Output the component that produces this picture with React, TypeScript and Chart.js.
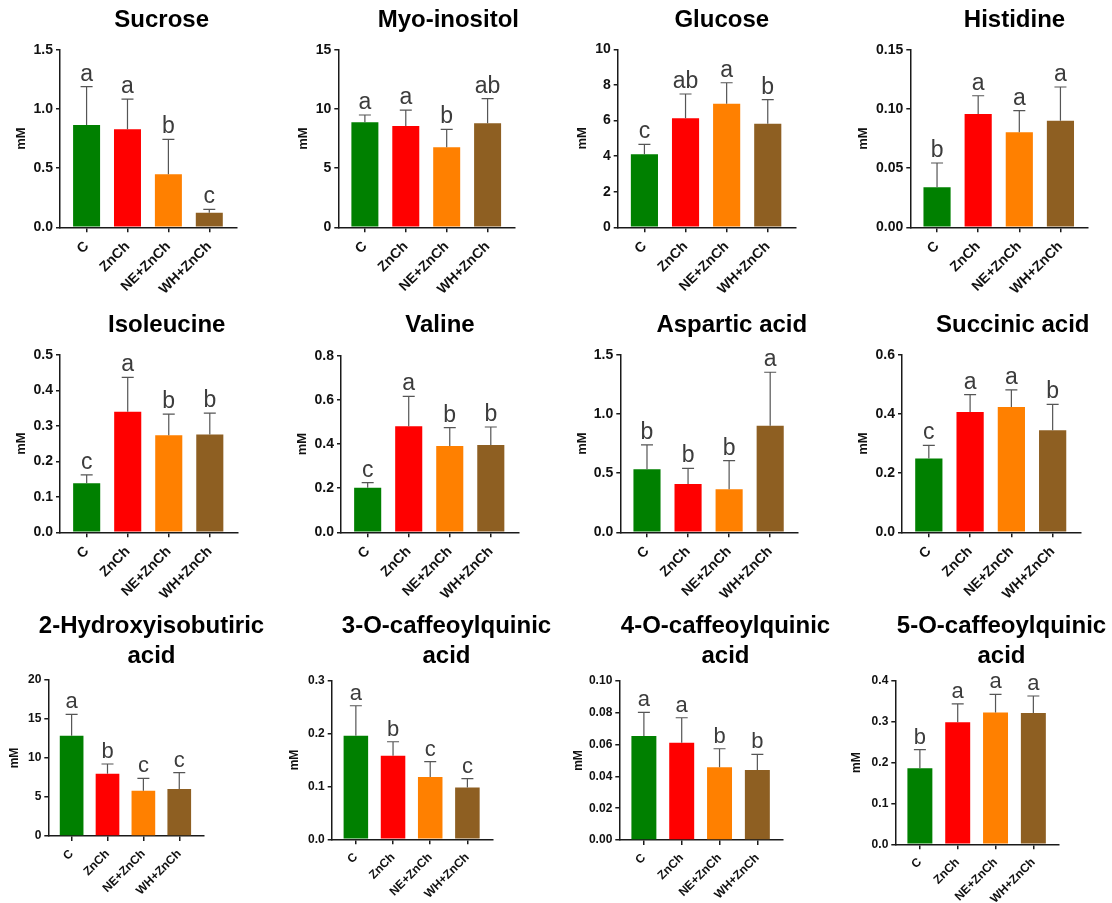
import React, { useEffect, useRef } from 'react';
import { Chart, registerables } from 'chart.js';

Chart.register(...registerables);

// ---------------- DATA ----------------
const groups = ['C', 'ZnCh', 'NE+ZnCh', 'WH+ZnCh'];

const sucroseMean = [0.866, 0.83, 0.448, 0.124];
const sucroseSd = [0.324, 0.255, 0.296, 0.028];
const sucroseLetters = ['a', 'a', 'b', 'c'];
const sucroseTicks = ['0.0', '0.5', '1.0', '1.5'];

const myoMean = [8.88, 8.57, 6.77, 8.8];
const myoSd = [0.62, 1.35, 1.52, 2.08];
const myoLetters = ['a', 'a', 'b', 'ab'];
const myoTicks = ['0', '5', '10', '15'];

const glucoseMean = [4.1, 6.12, 6.94, 5.82];
const glucoseSd = [0.56, 1.37, 1.18, 1.35];
const glucoseLetters = ['c', 'ab', 'a', 'b'];
const glucoseTicks = ['0', '2', '4', '6', '8', '10'];

const histidineMean = [0.0338, 0.0959, 0.0804, 0.0902];
const histidineSd = [0.0206, 0.0154, 0.0183, 0.0285];
const histidineLetters = ['b', 'a', 'a', 'a'];
const histidineTicks = ['0.00', '0.05', '0.10', '0.15'];

const isoleucineMean = [0.138, 0.34, 0.274, 0.276];
const isoleucineSd = [0.024, 0.097, 0.059, 0.06];
const isoleucineLetters = ['c', 'a', 'b', 'b'];
const isoleucineTicks = ['0.0', '0.1', '0.2', '0.3', '0.4', '0.5'];

const valineMean = [0.202, 0.48, 0.391, 0.395];
const valineSd = [0.023, 0.136, 0.083, 0.082];
const valineLetters = ['c', 'a', 'b', 'b'];
const valineTicks = ['0.0', '0.2', '0.4', '0.6', '0.8'];

const asparticMean = [0.533, 0.409, 0.364, 0.902];
const asparticSd = [0.206, 0.132, 0.242, 0.452];
const asparticLetters = ['b', 'b', 'b', 'a'];
const asparticTicks = ['0.0', '0.5', '1.0', '1.5'];

const succinicMean = [0.25, 0.407, 0.424, 0.345];
const succinicSd = [0.044, 0.059, 0.058, 0.088];
const succinicLetters = ['c', 'a', 'a', 'b'];
const succinicTicks = ['0.0', '0.2', '0.4', '0.6'];

const hibaMean = [12.86, 7.99, 5.81, 6.03];
const hibaSd = [2.74, 1.24, 1.59, 2.09];
const hibaLetters = ['a', 'b', 'c', 'c'];
const hibaTicks = ['0', '5', '10', '15', '20'];

const cqa3Mean = [0.196, 0.158, 0.118, 0.098];
const cqa3Sd = [0.0566, 0.0265, 0.0288, 0.0166];
const cqa3Letters = ['a', 'b', 'c', 'c'];
const cqa3Ticks = ['0.0', '0.1', '0.2', '0.3'];

const cqa4Mean = [0.0654, 0.0612, 0.0457, 0.044];
const cqa4Sd = [0.0149, 0.0157, 0.0117, 0.0099];
const cqa4Letters = ['a', 'a', 'b', 'b'];
const cqa4Ticks = ['0.00', '0.02', '0.04', '0.06', '0.08', '0.10'];

const cqa5Mean = [0.186, 0.2988, 0.323, 0.3216];
const cqa5Sd = [0.0457, 0.0452, 0.044, 0.0417];
const cqa5Letters = ['b', 'a', 'a', 'a'];
const cqa5Ticks = ['0.0', '0.1', '0.2', '0.3', '0.4'];

// ---------------- STYLE / LAYOUT ----------------
const groupColors = ['#008000', '#FF0000', '#FF8000', '#8E5F22'];
const FONT = "'Liberation Sans', Arial, Helvetica, sans-serif";
const AXIS = '#1a1a1a';
const PAGE_W = 1112;
const PAGE_H = 903;

type Panel = {
  title: string[];
  mean: number[];
  sd: number[];
  letters: string[];
  ticks: string[];
  L: number; R: number; T: number; B: number;
  tx: number; ty: number;
  mm: number;
  small: boolean;
};

const panels: Panel[] = [
  { title: ['Sucrose'], mean: sucroseMean, sd: sucroseSd, letters: sucroseLetters, ticks: sucroseTicks, L: 60, R: 236.7, T: 50, B: 227.3, tx: 161.7, ty: 26.7, mm: 38.3, small: false },
  { title: ['Myo-inositol'], mean: myoMean, sd: myoSd, letters: myoLetters, ticks: myoTicks, L: 338.3, R: 515, T: 50, B: 227.3, tx: 448.3, ty: 26.7, mm: 35, small: false },
  { title: ['Glucose'], mean: glucoseMean, sd: glucoseSd, letters: glucoseLetters, ticks: glucoseTicks, L: 617.7, R: 795.3, T: 49.3, B: 227.3, tx: 721.8, ty: 26.7, mm: 35, small: false },
  { title: ['Histidine'], mean: histidineMean, sd: histidineSd, letters: histidineLetters, ticks: histidineTicks, L: 910.3, R: 1088, T: 50, B: 227.3, tx: 1014.5, ty: 26.7, mm: 46.6, small: false },
  { title: ['Isoleucine'], mean: isoleucineMean, sd: isoleucineSd, letters: isoleucineLetters, ticks: isoleucineTicks, L: 60, R: 237.3, T: 355, B: 532.3, tx: 166.7, ty: 331.7, mm: 38.3, small: false },
  { title: ['Valine'], mean: valineMean, sd: valineSd, letters: valineLetters, ticks: valineTicks, L: 341, R: 518.3, T: 355.7, B: 532.3, tx: 440, ty: 331.7, mm: 38.3, small: false },
  { title: ['Aspartic acid'], mean: asparticMean, sd: asparticSd, letters: asparticLetters, ticks: asparticTicks, L: 620.3, R: 797.7, T: 355, B: 532.3, tx: 731.8, ty: 331.7, mm: 37.6, small: false },
  { title: ['Succinic acid'], mean: succinicMean, sd: succinicSd, letters: succinicLetters, ticks: succinicTicks, L: 902, R: 1080.3, T: 355, B: 532.3, tx: 1012.8, ty: 331.7, mm: 38.3, small: false },
  { title: ['2-Hydroxyisobutiric', 'acid'], mean: hibaMean, sd: hibaSd, letters: hibaLetters, ticks: hibaTicks, L: 48.3, R: 203.3, T: 680, B: 836, tx: 151.5, ty: 633.3, mm: 33.3, small: true },
  { title: ['3-O-caffeoylquinic', 'acid'], mean: cqa3Mean, sd: cqa3Sd, letters: cqa3Letters, ticks: cqa3Ticks, L: 331.7, R: 492.3, T: 680.7, B: 839.3, tx: 446.5, ty: 633.3, mm: 36.7, small: true },
  { title: ['4-O-caffeoylquinic', 'acid'], mean: cqa4Mean, sd: cqa4Sd, letters: cqa4Letters, ticks: cqa4Ticks, L: 619.3, R: 782.7, T: 681, B: 840, tx: 725.5, ty: 633.3, mm: 40.6, small: true },
  { title: ['5-O-caffeoylquinic', 'acid'], mean: cqa5Mean, sd: cqa5Sd, letters: cqa5Letters, ticks: cqa5Ticks, L: 895.3, R: 1058.7, T: 681, B: 844.3, tx: 1001.5, ty: 633.3, mm: 38.3, small: true },
];

const errorLetterPlugin = {
  id: 'errorLetters',
  afterDatasetsDraw(chart: any, _args: any, opts: any) {
    const { ctx } = chart;
    const yScale = chart.scales.y;
    const meta = chart.getDatasetMeta(0);
    ctx.save();
    meta.data.forEach((bar: any, i: number) => {
      const topVal = opts.mean[i] + opts.sd[i];
      const yTop = yScale.getPixelForValue(topVal);
      const yBar = yScale.getPixelForValue(opts.mean[i]);
      const x = bar.x;
      ctx.strokeStyle = '#555555';
      ctx.lineWidth = 1.2;
      ctx.beginPath();
      ctx.moveTo(x, yBar);
      ctx.lineTo(x, yTop);
      ctx.moveTo(x - 6, yTop);
      ctx.lineTo(x + 6, yTop);
      ctx.stroke();
      ctx.fillStyle = '#3c3c3c';
      ctx.font = `${opts.letterSize}px ${FONT}`;
      ctx.textAlign = 'center';
      ctx.textBaseline = 'alphabetic';
      ctx.fillText(opts.letters[i], x, yTop - 6);
    });
    ctx.restore();
  },
};

const panelTitlePlugin = {
  id: 'panelTitle',
  afterDraw(chart: any, _args: any, opts: any) {
    const { ctx } = chart;
    ctx.save();
    ctx.fillStyle = '#000';
    ctx.font = `bold 24px ${FONT}`;
    ctx.textAlign = 'center';
    ctx.textBaseline = 'alphabetic';
    opts.lines.forEach((line: string, i: number) => {
      ctx.fillText(line, opts.x, opts.y + i * 30);
    });
    ctx.restore();
  },
};

function PanelChart({ p }: { p: Panel }) {
  const ref = useRef<HTMLCanvasElement>(null);
  useEffect(() => {
    if (!ref.current) return;
    const yTickSize = p.small ? 12 : 14;
    const xTickSize = p.small ? 12 : 14;
    const mmSize = p.small ? 12 : 13;
    const yW = p.mm + (mmSize * 1.2) / 2;
    const xH = Math.min(75, PAGE_H - p.B);
    const tickVals = p.ticks.map((t) => parseFloat(t));
    const chart = new Chart(ref.current, {
      type: 'bar',
      data: {
        datasets: [
          {
            data: p.mean.map((v, i) => ({ x: i, y: v })),
            backgroundColor: groupColors,
            borderWidth: 0,
            barPercentage: 0.66,
            categoryPercentage: 1,
          },
        ],
      },
      options: {
        animation: false,
        responsive: false,
        events: [],
        layout: {
          padding: {
            left: p.L - yW,
            right: PAGE_W - p.R,
            top: p.T,
            bottom: PAGE_H - p.B - xH,
          },
        },
        plugins: {
          legend: { display: false },
          tooltip: { enabled: false },
          title: { display: false },
          errorLetters: { mean: p.mean, sd: p.sd, letters: p.letters, letterSize: p.small ? 22 : 23 },
          panelTitle: { lines: p.title, x: p.tx, y: p.ty },
        } as any,
        scales: {
          x: {
            type: 'linear',
            min: -0.65,
            max: 3.67,
            offset: false,
            afterBuildTicks: (s: any) => {
              s.ticks = groups.map((_, i) => ({ value: i }));
            },
            afterFit: (s: any) => {
              s.height = xH;
              s.paddingLeft = 0;
              s.paddingRight = 0;
            },
            ticks: {
              autoSkip: false,
              minRotation: 45,
              maxRotation: 45,
              padding: 6,
              color: '#111',
              font: { family: FONT, size: xTickSize, weight: 'bold' },
              callback: (v: any) => groups[v] ?? '',
            },
            grid: { drawOnChartArea: false, drawTicks: true, tickLength: 5, color: AXIS, lineWidth: 1.5, offset: false },
            border: { display: true, color: AXIS, width: 1.5 },
          },
          y: {
            type: 'linear',
            min: 0,
            max: tickVals[tickVals.length - 1],
            afterBuildTicks: (s: any) => {
              s.ticks = tickVals.map((v) => ({ value: v }));
            },
            afterFit: (s: any) => {
              s.width = yW;
              s.paddingTop = 0;
              s.paddingBottom = 0;
            },
            ticks: {
              padding: 3,
              color: '#111',
              font: { family: FONT, size: yTickSize, weight: 'bold' },
              callback: (_v: any, i: number) => p.ticks[i],
            },
            grid: { drawOnChartArea: false, drawTicks: true, tickLength: 4, color: AXIS, lineWidth: 1.5 },
            border: { display: true, color: AXIS, width: 1.5 },
            title: {
              display: true,
              text: 'mM',
              color: '#111',
              padding: 0,
              font: { family: FONT, size: mmSize, weight: 'bold' },
            },
          },
        },
      } as any,
      plugins: [errorLetterPlugin, panelTitlePlugin],
    });
    return () => chart.destroy();
  }, [p]);
  return (
    <canvas
      ref={ref}
      width={PAGE_W}
      height={PAGE_H}
      style={{ position: 'absolute', left: 0, top: 0, width: PAGE_W, height: PAGE_H }}
    />
  );
}

export default function App() {
  return (
    <div
      style={{
        position: 'absolute',
        left: 0,
        top: 0,
        width: PAGE_W,
        height: PAGE_H,
        background: '#ffffff',
        overflow: 'hidden',
      }}
    >
      {panels.map((p, i) => (
        <PanelChart key={i} p={p} />
      ))}
    </div>
  );
}
